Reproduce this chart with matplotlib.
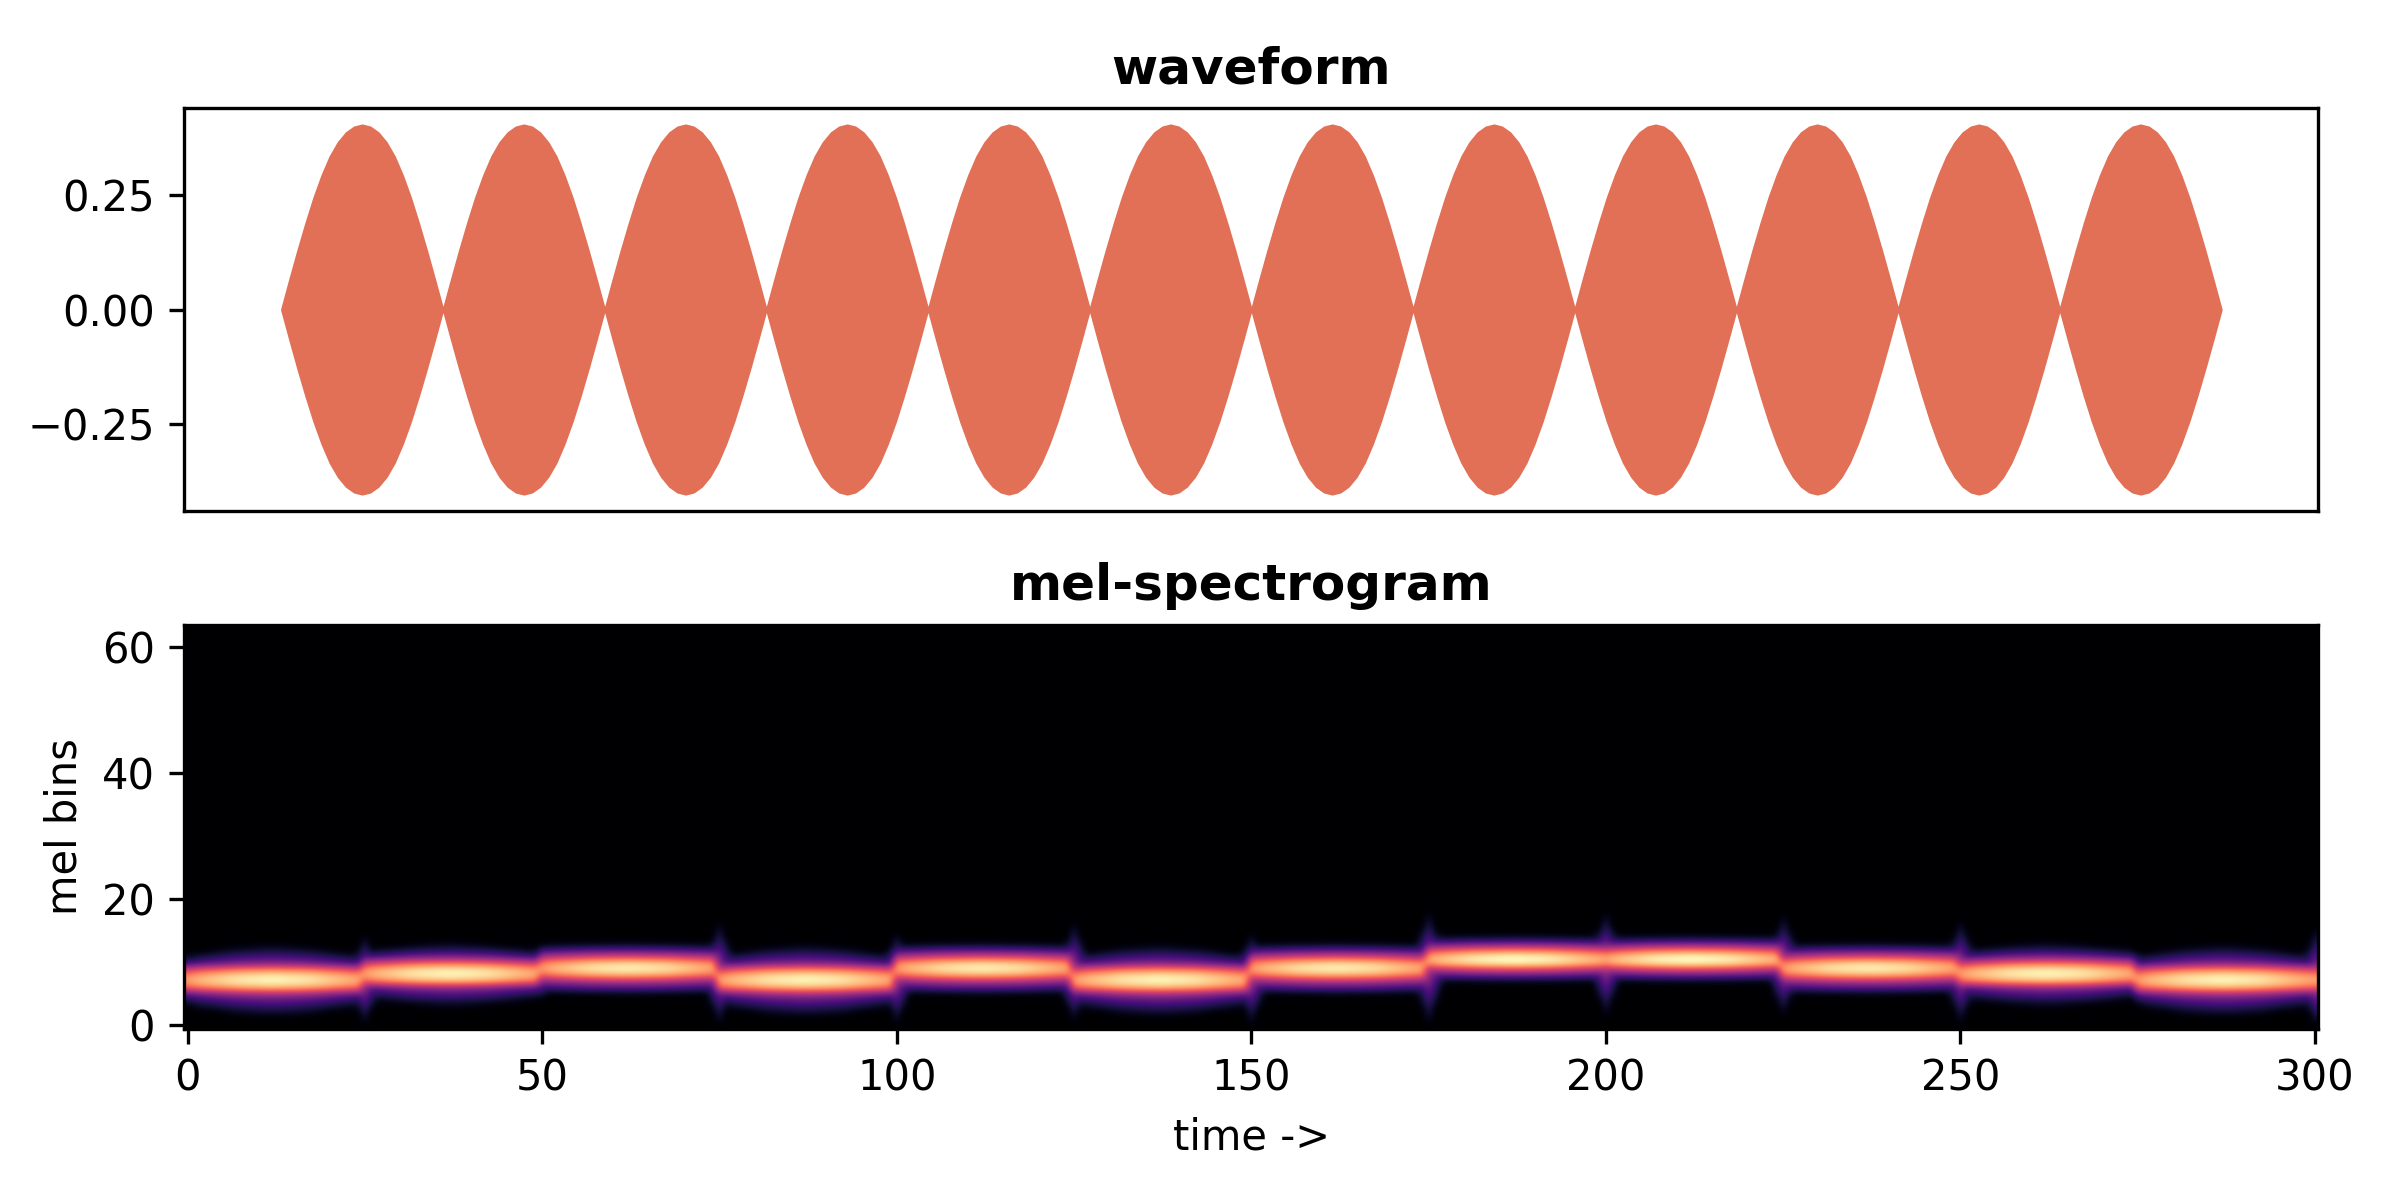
import numpy as np
import matplotlib
matplotlib.use("Agg")
import matplotlib.pyplot as plt

# ---- waveform: one amplitude per note and the lobe outline
note_peaks = [0.404, 0.404, 0.404, 0.404, 0.404, 0.404, 0.404, 0.404, 0.404, 0.404, 0.404, 0.404]
lobe_outline = [0.000, 0.161, 0.318, 0.467, 0.606, 0.727, 0.829, 0.905, 0.958, 0.989, 1.000,
                0.989, 0.958, 0.905, 0.829, 0.727, 0.606, 0.467, 0.318, 0.161, 0.000]
wave_color = "#E27056"
y_ticks_wave = [-0.25, 0.0, 0.25]

# ---- mel-spectrogram: values on the 0..1 colour scale
n_bins = 64
n_frames = 301
frames_per_note = 25
note_kinds = ["a", "b", "c", "a", "c", "a", "c", "d", "d", "c", "b", "a"]

# bin-by-bin level at mid-note, starting at bin 0
kind_profiles = {
    "a": [0, 0, 0.07, 0.17, 0.28, 0.45, 0.82, 1.00, 0.95, 0.72, 0.36, 0.22, 0.10, 0.02, 0, 0],
    "b": [0, 0, 0, 0.03, 0.12, 0.25, 0.40, 0.82, 1.00, 0.95, 0.68, 0.34, 0.16, 0.04, 0, 0],
    "c": [0, 0, 0, 0, 0, 0.04, 0.25, 0.48, 0.82, 1.00, 0.90, 0.58, 0.27, 0.05, 0, 0],
    "d": [0, 0, 0, 0, 0, 0, 0, 0.05, 0.31, 0.62, 1.00, 1.00, 0.72, 0.35, 0.08, 0],
}
# how much the tails fade towards the note ends (1 = same loss as the core, 0 = in proportion)
kind_tail_fade = {"a": 0.75, "b": 0.60, "c": 0.10, "d": 0.05}
# level lost at each frame inside a note
frame_drop = [0.20, 0.16, 0.13, 0.11, 0.09, 0.07, 0.05, 0.035, 0.025, 0.015, 0.01, 0.00, 0.00,
              0.00, 0.01, 0.015, 0.025, 0.035, 0.05, 0.07, 0.09, 0.11, 0.13, 0.15, 0.17]
# reach in bins of the vertical spike at each note boundary, frames 25, 50, ... 300
spike_frames = [25, 50, 75, 100, 125, 150, 175, 200, 225, 250, 275, 300]
spike_top = [14.6, 13.0, 16.7, 15.0, 16.7, 14.9, 18.3, 18.3, 17.8, 17.0, 12.0, 15.6]
spike_bottom = [0.0, 4.0, 0.0, 0.0, 0.5, 0.0, 0.0, 1.3, 1.4, 0.0, 3.0, 0.0]
spike_levels = {0: 0.50, 1: 0.36, 2: 0.17, 3: 0.06}   # strength by distance in frames
spike_reach = {0: 1.0, 1: 0.72, 2: 0.42, 3: 0.22}     # share of the reach by distance in frames

x_ticks_mel = [0, 50, 100, 150, 200, 250, 300]
y_ticks_mel = [0, 20, 40, 60]

# ---- assemble the spectrogram from the tables above
mel = np.zeros((n_bins, n_frames))
for i, kind in enumerate(note_kinds):
    prof = np.zeros(n_bins)
    prof[:len(kind_profiles[kind])] = kind_profiles[kind]
    w = kind_tail_fade[kind]
    for j, drop in enumerate(frame_drop):
        f = i * frames_per_note + j
        mel[:, f] = np.clip(prof - drop * (w + (1 - w) * prof), 0, 1)
mel[:, 300] = np.clip(np.array(kind_profiles["a"] + [0] * (n_bins - 16)) - 0.18, 0, 1)

for n, (f0, top, bot) in enumerate(zip(spike_frames, spike_top, spike_bottom)):
    left_kind = note_kinds[n]
    right_kind = note_kinds[min(n + 1, 11)]
    centre = (np.argmax(kind_profiles[left_kind]) + np.argmax(kind_profiles[right_kind])) / 2
    for off, lvl in spike_levels.items():
        for f in {f0 - off, f0 + off}:
            if not 0 <= f < n_frames:
                continue
            reach = spike_reach[off]
            t = centre + (top - centre) * reach
            b = centre - (centre - bot) * reach
            for k in range(n_bins):
                if k >= centre:
                    s = 1 - (k - centre) / max(t - centre, 0.1)
                else:
                    s = 1 - (centre - k) / max(centre - b, 0.1)
                if s > 0:
                    mel[k, f] = max(mel[k, f], lvl * s)

# ---- figure
fig = plt.figure(figsize=(8, 4), dpi=300)
ax1 = fig.add_axes([0.0768, 0.5744, 0.966 - 0.0768, 0.90975 - 0.5744])
ax2 = fig.add_axes([0.0768, 0.1429, 0.966 - 0.0768, 0.4792 - 0.1429])

env = []
xs = []
for i, p in enumerate(note_peaks):
    for k, v in enumerate(lobe_outline):
        xs.append(i + k / (len(lobe_outline) - 1))
        env.append(p * v)
env = np.array(env)
xs = np.array(xs)
ax1.fill_between(xs, -env, env, color=wave_color, linewidth=0.4)
ax1.set_xticks([])
ax1.set_yticks(y_ticks_wave)
ax1.set_ylim(-0.44, 0.44)
ax1.set_title("waveform", fontweight="bold", fontsize=12)

ax2.imshow(mel, aspect="auto", origin="lower", cmap="magma", vmin=0, vmax=1,
           interpolation="bicubic")
ax2.set_xticks(x_ticks_mel)
ax2.set_yticks(y_ticks_mel)
ax2.set_xlabel("time ->")
ax2.set_ylabel("mel bins")
ax2.set_title("mel-spectrogram", fontweight="bold", fontsize=12)

fig.savefig("out.png", dpi=300)
